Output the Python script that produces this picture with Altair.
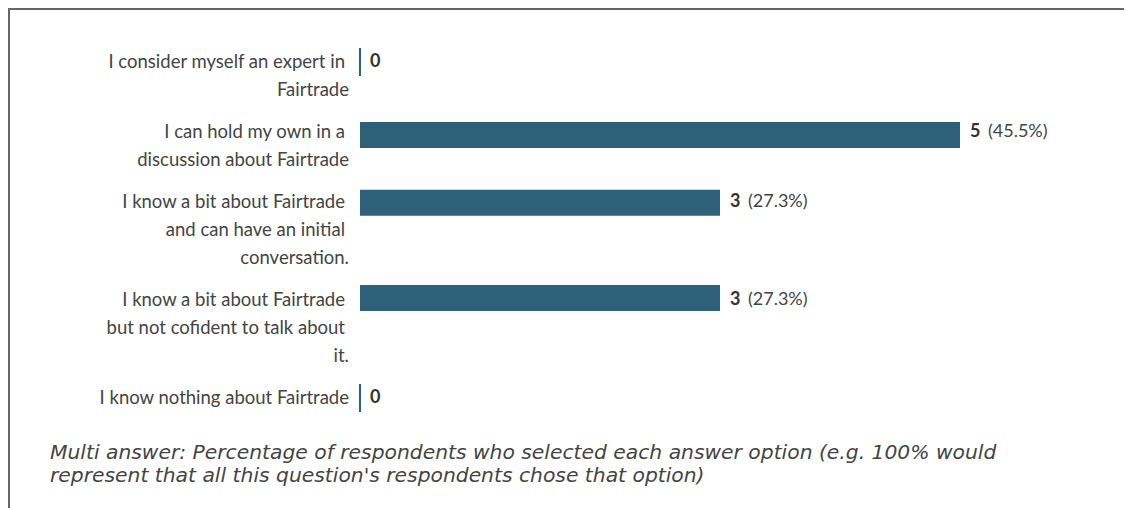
import altair as alt
import pandas as pd

labels = [
    ["I consider myself an expert in", "Fairtrade"],
    ["I can hold my own in a", "discussion about Fairtrade"],
    ["I know a bit about Fairtrade", "and can have an initial", "conversation."],
    ["I know a bit about Fairtrade", "but not cofident to talk about", "it."],
    ["I know nothing about Fairtrade"],
]
counts = [0, 5, 3, 3, 0]
percents = ["", "(45.5%)", "(27.3%)", "(27.3%)", ""]
footnote = [
    "Multi answer: Percentage of respondents who selected each answer option (e.g. 100% would",
    "represent that all this question's respondents chose that option)",
]

# row positions in "line units" (each row takes its number of label lines plus a half-line gap)
pos = []
p = 0.0
for lab in labels:
    pos.append(p)
    p += len(lab) + 0.5

rows = pd.DataFrame({
    "pos": pos,
    "count": counts,
    "pct": percents,
    "lo": [v - 0.5 for v in pos],
    "hi": [v + 0.5 for v in pos],
})
lines = pd.DataFrame([
    {"pos": pos[i] + k, "line": t, "last": k == len(lab) - 1}
    for i, lab in enumerate(labels) for k, t in enumerate(lab)
])

W, H = 1116, 500
BAR = "#2e6179"
TXT = "#444444"

xs = alt.Scale(domain=[0, 5], range=[352, 952])
ys = alt.Scale(domain=[0, 12], range=[54, 54 + 12 * 28])
X = lambda f: alt.X(f, type="quantitative", scale=xs, axis=None)
Y = lambda f: alt.Y(f, type="quantitative", scale=ys, axis=None)

base = alt.Chart(rows)

bars = base.transform_filter("datum.count > 0").transform_calculate(zero="0").mark_bar(
    color=BAR, size=26).encode(
    x=alt.X("zero:Q", scale=xs, axis=None), x2="count:Q", y=Y("pos")
)

zero_ticks = base.transform_filter("datum.count == 0").mark_rule(color=BAR, strokeWidth=2).encode(
    x=X("count"), y=Y("lo"), y2="hi"
)

count_text = base.mark_text(font="Lato", fontSize=18, fontWeight="bold", color="#333333",
                            align="left", baseline="middle", dx=10).encode(
    x=X("count"), y=Y("pos"), text="count:Q"
)

pct_text = base.transform_filter("datum.count > 0").mark_text(
    font="Lato", fontSize=18, color=TXT, align="left", baseline="middle", dx=28).encode(
    x=X("count"), y=Y("pos"), text="pct:N"
)

label_base = alt.Chart(lines).mark_text(font="Lato", fontSize=18.5, color=TXT,
                                        align="right", baseline="middle")
label_last = label_base.transform_filter("datum.last").encode(
    x=alt.value(341), y=Y("pos"), text="line:N"
)
label_cont = label_base.transform_filter("!datum.last").encode(
    x=alt.value(337), y=Y("pos"), text="line:N"
)

foot = alt.Chart(pd.DataFrame({"a": [0]})).mark_text(
    font="DejaVu Sans", fontSize=20.3, fontStyle="italic", color=TXT,
    align="left", baseline="middle", lineHeight=23).encode(
    x=alt.value(42),
    y=alt.value(445),
    text=alt.value(footnote)
)

frame_df = alt.Chart(pd.DataFrame({"a": [0]}))
top_rule = frame_df.mark_rule(color="#666666", strokeWidth=2).encode(
    x=alt.value(0), x2=alt.value(W), y=alt.value(1)
)
left_rule = frame_df.mark_rule(color="#666666", strokeWidth=2).encode(
    x=alt.value(1), y=alt.value(0), y2=alt.value(H)
)

chart = alt.layer(
    bars, zero_ticks, count_text, pct_text, label_last, label_cont, foot, top_rule, left_rule
).resolve_scale(y="independent", x="independent").properties(
    width=W, height=H, padding=0, autosize=alt.AutoSizeParams(type="none")
).configure_view(stroke=None)

chart.save("out.html", embed_options={"renderer": "svg", "actions": False})
